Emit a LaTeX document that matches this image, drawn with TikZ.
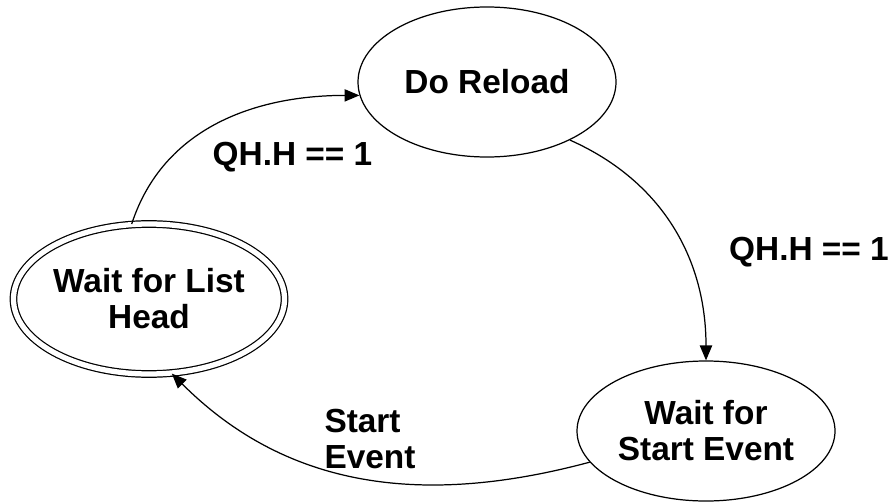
\documentclass[tikz,border=0pt]{standalone}
\usepackage{fontspec}
\setmainfont{Liberation Sans}
\usetikzlibrary{shapes.geometric, arrows.meta, positioning}

\begin{document}
\begin{tikzpicture}[
        statebox/.style={ellipse, draw, line width=0.7pt, minimum width=5.16cm, minimum height=3cm, inner sep=0pt, align=center, font=\fontsize{19}{20.5}\selectfont\bfseries},
        accept/.style={double, double distance=3pt, minimum width=5.36cm},
        guard/.style={font=\fontsize{19}{20.5}\selectfont\bfseries, align=left},
        arrow/.style={-{Triangle[length=8.5pt, width=7pt]}, line width=0.7pt}
    ]
        \useasboundingbox (0,0) rectangle (17.82,10.04);

        \node[statebox] (reload) at (9.74, 8.40) {Do Reload};
        \node[statebox, accept] (head) at (2.98, 4.06) {Wait for List\\Head};
        \node[statebox, minimum height=2.8cm] (start) at (14.12, 1.42) {Wait for\\Start Event};

        \node[guard] (hgone) at (5.85, 6.90) {QH.H == 1};
        \node[guard] (hgtwo) at (16.18, 5.00) {QH.H == 1};
        \node[guard] (sev) at (7.40, 1.26) {Start\\Event};

        \draw[arrow] (head.103) to[out=72, in=180] (reload.186);
        \draw[arrow] (reload.-35) to[out=-24, in=90] (start.90);
        \draw[arrow] (start.195) to[out=195, in=-45] (head.-73);
    \end{tikzpicture}
\end{document}
